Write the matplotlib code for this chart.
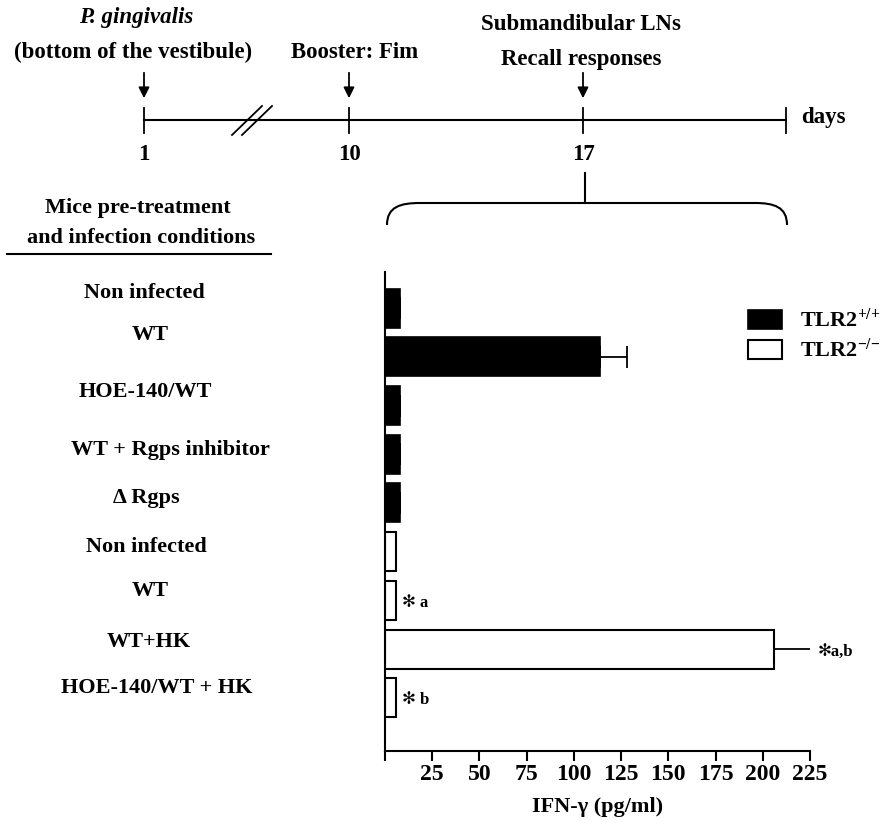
import matplotlib
matplotlib.use('Agg')
import matplotlib.pyplot as plt
from matplotlib.patches import Patch, PathPatch
from matplotlib.path import Path
from matplotlib.transforms import blended_transform_factory

plt.rcParams['font.family'] = ['Liberation Serif', 'DejaVu Sans']
plt.rcParams['font.weight'] = 'bold'
plt.rcParams['axes.labelweight'] = 'bold'
plt.rcParams['mathtext.fontset'] = 'custom'
plt.rcParams['mathtext.rm'] = 'Liberation Serif:bold'
plt.rcParams['mathtext.it'] = 'Liberation Serif:bold'

# data
groups_wt = ['Non infected', 'WT', 'HOE-140/WT', 'WT + Rgps inhibitor', 'Δ Rgps']
groups_ko = ['Non infected', 'WT', 'WT+HK', 'HOE-140/WT + HK']
ifn_wt = [8, 114, 8, 8, 8]
err_wt = [0, 14, 0, 0, 0]
ifn_ko = [6, 6, 206, 6]
err_ko = [0, 0, 20, 0]
ko_marks = ['', '✻ a', '✻a,b', '✻ b']
xticks = [0, 25, 50, 75, 100, 125, 150, 175, 200, 225]
days = ['1', '10', '17']

fig = plt.figure(figsize=(8.9, 8.3), dpi=100)

# overlay for the timeline drawing, pixel coordinates
ov = fig.add_axes([0, 0, 1, 1])
ov.set_xlim(0, 890)
ov.set_ylim(830, 0)
ov.axis('off')
ov.patch.set_visible(False)

ft = 16.5
ov.text(136, 18, 'P. gingivalis', style='italic', fontsize=ft, ha='center', va='center')
ov.text(133, 52, '(bottom of the vestibule)', fontsize=ft, ha='center', va='center')
ov.text(355, 52, 'Booster: Fim', fontsize=ft, ha='center', va='center')
ov.text(581, 25, 'Submandibular LNs', fontsize=ft, ha='center', va='center')
ov.text(581, 59, 'Recall responses', fontsize=ft, ha='center', va='center')

day_x = [144, 349, 583]
for x, d in zip(day_x, days):
    ov.annotate('', xy=(x, 101), xytext=(x, 70),
                arrowprops=dict(arrowstyle='-|>', color='k', lw=1.3, mutation_scale=16))
    ov.plot([x, x], [108, 133], color='k', lw=1.3)
    ov.text(x, 154, d, fontsize=ft, ha='center', va='center')
ov.plot([144, 786], [120, 120], color='k', lw=1.5)
ov.plot([786, 786], [108, 133], color='k', lw=1.3)
ov.plot([232, 262], [135, 106], color='k', lw=1.3)
ov.plot([242, 272], [135, 106], color='k', lw=1.3)
ov.text(801, 117, 'days', fontsize=ft, ha='left', va='center')

# bracket
ov.plot([585, 585], [173, 203], color='k', lw=1.5)
verts = [(387, 225), (387, 207), (400, 203), (420, 203), (755, 203),
         (774, 203), (787, 207), (787, 225)]
codes = [Path.MOVETO, Path.CURVE4, Path.CURVE4, Path.CURVE4, Path.LINETO,
         Path.CURVE4, Path.CURVE4, Path.CURVE4]
ov.add_patch(PathPatch(Path(verts, codes), fill=False, lw=1.5, color='k'))

fs = 16
ov.text(138, 208, 'Mice pre-treatment', fontsize=fs, ha='center', va='center')
ov.text(141, 238, 'and infection conditions', fontsize=fs, ha='center', va='center')
ov.plot([7, 271], [254, 254], color='k', lw=1.5)

# bar chart
ax = fig.add_axes([385 / 890, 1 - 751 / 830, 425 / 890, 479 / 830])
n1 = len(ifn_wt)
pos_wt = list(range(n1))
pos_ko = [n1 + i for i in range(len(ifn_ko))]
ax.barh(pos_wt, ifn_wt, height=0.8, color='black', edgecolor='black', lw=1.2,
        xerr=[[0] * n1, err_wt], error_kw=dict(ecolor='black', elinewidth=1.3, capsize=8, capthick=1.3))
ax.barh(pos_ko, ifn_ko, height=0.8, color='white', edgecolor='black', lw=1.5,
        xerr=[[0] * len(ifn_ko), err_ko], error_kw=dict(ecolor='black', elinewidth=1.3, capsize=8, capthick=1.3))

ax.set_xlim(0, 225)
ax.set_ylim(len(pos_wt) + len(pos_ko) + 0.09, -0.74)
for s in ['top', 'right']:
    ax.spines[s].set_visible(False)
for s in ['left', 'bottom']:
    ax.spines[s].set_linewidth(1.5)
ax.set_yticks([])
ax.set_xticks(xticks)
ax.set_xticklabels([''] + [str(t) for t in xticks[1:]], fontsize=17)
ax.tick_params(axis='x', direction='out', length=7, width=1.5, pad=2)
ax.set_xlabel('IFN-γ (pg/ml)', fontsize=16, fontweight='bold', labelpad=9)

# row labels at the left
label_x = [144, 150, 145, 170, 146, 146, 150, 149, 157]
label_dy = [-0.31, -0.45, -0.27, -0.08, -0.1, -0.1, -0.2, -0.14, -0.2]
tr = blended_transform_factory(fig.transFigure, ax.transData)
for i, lab in enumerate(groups_wt + groups_ko):
    ax.text(label_x[i] / 890, i + label_dy[i], lab, fontsize=fs, ha='center', va='center',
            transform=tr)

for p, v, e, m in zip(pos_ko, ifn_ko, err_ko, ko_marks):
    if m:
        ax.text(v + e + 3, p + 0.05, m, fontsize=12, ha='left', va='center', clip_on=False)

handles = [Patch(facecolor='black', edgecolor='black', lw=1.2),
           Patch(facecolor='white', edgecolor='black', lw=1.5)]
fig.legend(handles, ['TLR2$^{{+}/{+}}$', 'TLR2$^{{-}/{-}}$'], loc='upper left',
           bbox_to_anchor=(748 / 890, 1 - 309 / 830), frameon=False, fontsize=fs,
           handlelength=1.55, handleheight=0.9, handletextpad=0.8, labelspacing=0.3,
           borderpad=0, borderaxespad=0)

fig.savefig('out.png', dpi=100)
